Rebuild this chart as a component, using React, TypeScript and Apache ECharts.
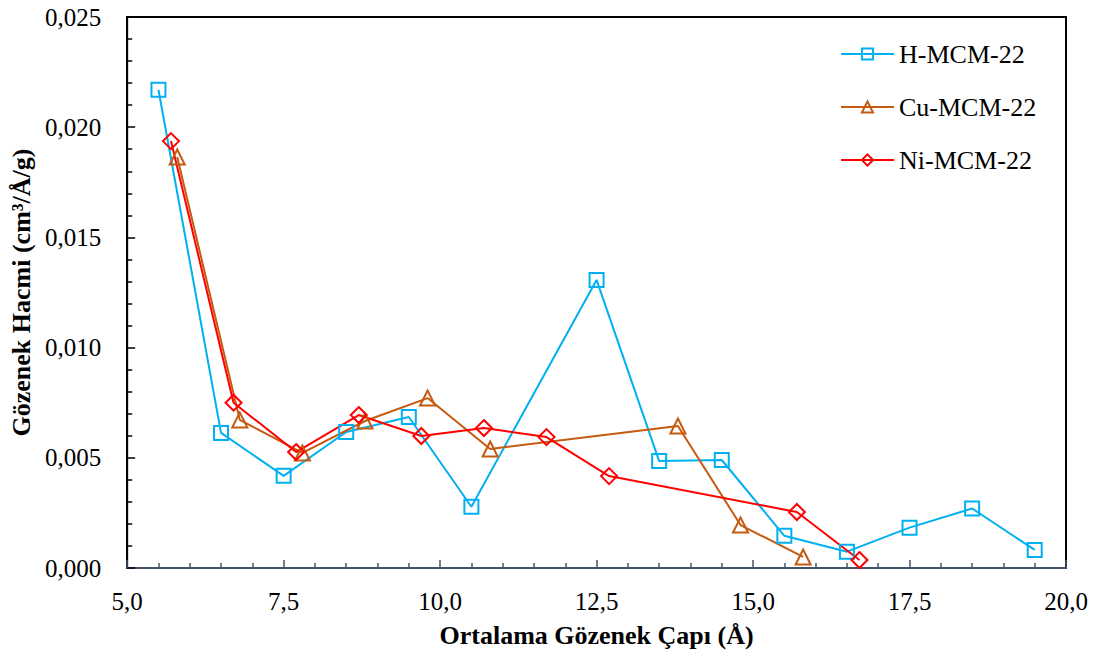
import React, { useEffect, useRef } from "react";
import * as echarts from "echarts";

const hX = [5.5, 6.5, 7.5, 8.5, 9.5, 10.5, 12.5, 13.5, 14.5, 15.5, 16.5, 17.5, 18.5, 19.5];
const hY = [0.0217, 0.00613, 0.00418, 0.00617, 0.00685, 0.00278, 0.01307, 0.00485, 0.0049, 0.00146, 0.00074, 0.00183, 0.0027, 0.00082];

const cuX = [5.8, 6.8, 7.8, 8.8, 9.8, 10.8, 13.8, 14.8, 15.8];
const cuY = [0.01865, 0.00672, 0.00522, 0.00667, 0.00771, 0.0054, 0.00644, 0.00195, 0.0005];

const niX = [5.7, 6.7, 7.7, 8.7, 9.7, 10.7, 11.7, 12.7, 15.7, 16.7];
const niY = [0.01937, 0.0075, 0.00526, 0.00694, 0.00599, 0.00635, 0.00594, 0.00417, 0.00254, 0.00036];

const seriesNames = ["H-MCM-22", "Cu-MCM-22", "Ni-MCM-22"];
const xTitle = "Ortalama Gözenek Çapı (Å)";
const yTitle = "Gözenek Hacmi (cm³/Å/g)";

const FONT = "serif";

function pairs(xs: number[], ys: number[]) {
  return xs.map((x, i) => [x, ys[i]]);
}

export default function App() {
  const ref = useRef<HTMLDivElement>(null);
  useEffect(() => {
    if (!ref.current) return;
    const chart = echarts.init(ref.current, undefined, { renderer: "svg" });
    const mk = (name: string, data: number[][], color: string, symbol: string, size: number) => ({
      name,
      type: "line",
      data,
      symbol,
      symbolSize: size,
      showAllSymbol: true,
      z: 5,
      lineStyle: { color, width: 2 },
      itemStyle: { color: "rgba(255,255,255,0)", borderColor: color, borderWidth: 2 },
      emphasis: { disabled: true },
    });
    chart.setOption({
      animation: false,
      backgroundColor: "#fff",
      textStyle: { fontFamily: FONT },
      grid: {
        left: 127,
        right: 35,
        top: 17,
        bottom: 89,
        show: true,
        borderColor: "#000",
        borderWidth: 2,
      },
      legend: {
        orient: "vertical",
        left: 835,
        top: 36,
        itemWidth: 53,
        itemHeight: 14,
        itemGap: 27,
        textStyle: { fontFamily: FONT, fontSize: 26, color: "#000" },
        data: seriesNames,
      },
      xAxis: {
        type: "value",
        min: 5,
        max: 20,
        interval: 2.5,
        name: xTitle,
        nameLocation: "middle",
        nameGap: 54,
        nameTextStyle: { fontFamily: FONT, fontSize: 26, fontWeight: "bold", color: "#000" },
        axisLine: { show: true, onZero: false, lineStyle: { color: "#44546A", width: 2 } },
        axisTick: { show: true, inside: true, length: 8, lineStyle: { color: "#44546A", width: 1.5 } },
        minorTick: { show: true, splitNumber: 5, length: 5, lineStyle: { color: "#44546A", width: 1.5 } },
        splitLine: { show: false },
        axisLabel: {
          fontFamily: FONT,
          fontSize: 25,
          color: "#000",
          margin: 21,
          formatter: (v: number) => v.toFixed(1).replace(".", ","),
        },
      },
      yAxis: {
        type: "value",
        min: 0,
        max: 0.025,
        interval: 0.005,
        name: yTitle,
        nameLocation: "middle",
        nameGap: 90,
        nameTextStyle: { fontFamily: FONT, fontSize: 26, fontWeight: "bold", color: "#000" },
        axisLine: { show: true, onZero: false, lineStyle: { color: "#000", width: 2 } },
        axisTick: { show: true, inside: true, length: 8, lineStyle: { color: "#000", width: 1.5 } },
        minorTick: { show: true, splitNumber: 5, length: 5, lineStyle: { color: "#000", width: 1.5 } },
        splitLine: { show: false },
        axisLabel: {
          fontFamily: FONT,
          fontSize: 25,
          color: "#000",
          margin: 26,
          formatter: (v: number) => v.toFixed(3).replace(".", ","),
        },
      },
      series: [
        mk(seriesNames[0], pairs(hX, hY), "#00B0F0", "rect", 14),
        mk(seriesNames[1], pairs(cuX, cuY), "#C55A11", "triangle", 15),
        mk(seriesNames[2], pairs(niX, niY), "#FF0000", "diamond", 16),
      ],
    });
    return () => chart.dispose();
  }, []);
  return (
    <div
      ref={ref}
      style={{ position: "fixed", left: 0, top: 0, width: 1101, height: 657 }}
    />
  );
}
